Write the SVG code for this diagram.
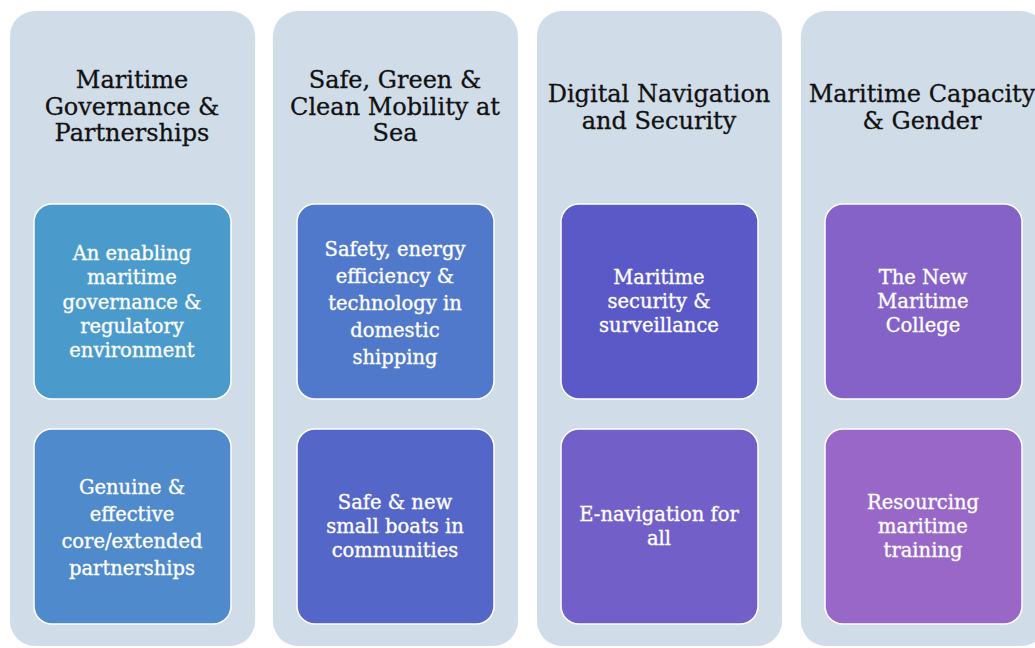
<svg xmlns="http://www.w3.org/2000/svg" width="1035" height="648" viewBox="0 0 1035 648">
  <style>
    .col { fill: #D0DDE9; }
    .box { stroke: #FFFFFF; stroke-width: 1.5; }
    .title { font-family: "DejaVu Serif", "Liberation Serif", serif; font-size: 24px; fill: #111111; stroke: #111111; stroke-width: 0.3; text-anchor: middle; }
    .item { font-family: "DejaVu Serif", "Liberation Serif", serif; font-size: 19.5px; fill: #FFFFFF; stroke: #FFFFFF; stroke-width: 0.35; text-anchor: middle; }
  </style>
  <rect width="1035" height="648" fill="#FFFFFF"/>

  <!-- Column 1 -->
  <g id="col-governance">
    <rect class="col" x="10" y="11" width="245" height="635" rx="25"/>
    <text class="title" x="132" y="88">Maritime</text>
    <text class="title" x="132" y="115">Governance &amp;</text>
    <text class="title" x="132" y="141">Partnerships</text>
  </g>
  <g id="node-enabling">
    <rect class="box" x="34" y="204" width="197" height="195" rx="18" fill="#4A9BCC"/>
    <text class="item" x="132" y="260">An enabling</text>
    <text class="item" x="132" y="284">maritime</text>
    <text class="item" x="132" y="309">governance &amp;</text>
    <text class="item" x="132" y="333">regulatory</text>
    <text class="item" x="132" y="357">environment</text>
  </g>
  <g id="node-partnerships">
    <rect class="box" x="34" y="429" width="197" height="195" rx="18" fill="#4F8ACC"/>
    <text class="item" x="132" y="494">Genuine &amp;</text>
    <text class="item" x="132" y="521">effective</text>
    <text class="item" x="132" y="548">core/extended</text>
    <text class="item" x="132" y="575">partnerships</text>
  </g>

  <!-- Column 2 -->
  <g id="col-mobility">
    <rect class="col" x="273" y="11" width="245" height="635" rx="25"/>
    <text class="title" x="395" y="88">Safe, Green &amp;</text>
    <text class="title" x="395" y="115">Clean Mobility at</text>
    <text class="title" x="395" y="141">Sea</text>
  </g>
  <g id="node-shipping">
    <rect class="box" x="297" y="204" width="197" height="195" rx="18" fill="#5179CB"/>
    <text class="item" x="395" y="256">Safety, energy</text>
    <text class="item" x="395" y="283">efficiency &amp;</text>
    <text class="item" x="395" y="310">technology in</text>
    <text class="item" x="395" y="337">domestic</text>
    <text class="item" x="395" y="364">shipping</text>
  </g>
  <g id="node-boats">
    <rect class="box" x="297" y="429" width="197" height="195" rx="18" fill="#5566C9"/>
    <text class="item" x="395" y="509">Safe &amp; new</text>
    <text class="item" x="395" y="533">small boats in</text>
    <text class="item" x="395" y="557">communities</text>
  </g>

  <!-- Column 3 -->
  <g id="col-navigation">
    <rect class="col" x="537" y="11" width="245" height="635" rx="25"/>
    <text class="title" x="659" y="102">Digital Navigation</text>
    <text class="title" x="659" y="129">and Security</text>
  </g>
  <g id="node-security">
    <rect class="box" x="561" y="204" width="197" height="195" rx="18" fill="#5B59C8"/>
    <text class="item" x="659" y="284">Maritime</text>
    <text class="item" x="659" y="308">security &amp;</text>
    <text class="item" x="659" y="332">surveillance</text>
  </g>
  <g id="node-enavigation">
    <rect class="box" x="561" y="429" width="197" height="195" rx="18" fill="#735FC8"/>
    <text class="item" x="659" y="521">E-navigation for</text>
    <text class="item" x="659" y="545">all</text>
  </g>

  <!-- Column 4 -->
  <g id="col-capacity">
    <rect class="col" x="801" y="11" width="245" height="635" rx="25"/>
    <text class="title" x="922" y="102">Maritime Capacity</text>
    <text class="title" x="922" y="129">&amp; Gender</text>
  </g>
  <g id="node-college">
    <rect class="box" x="825" y="204" width="197" height="195" rx="18" fill="#8562C8"/>
    <text class="item" x="923" y="284">The New</text>
    <text class="item" x="923" y="308">Maritime</text>
    <text class="item" x="923" y="332">College</text>
  </g>
  <g id="node-training">
    <rect class="box" x="825" y="429" width="197" height="195" rx="18" fill="#9867C7"/>
    <text class="item" x="923" y="509">Resourcing</text>
    <text class="item" x="923" y="533">maritime</text>
    <text class="item" x="923" y="557">training</text>
  </g>

  <!-- no connectors in this layout -->
  <g id="connectors"/>
</svg>
